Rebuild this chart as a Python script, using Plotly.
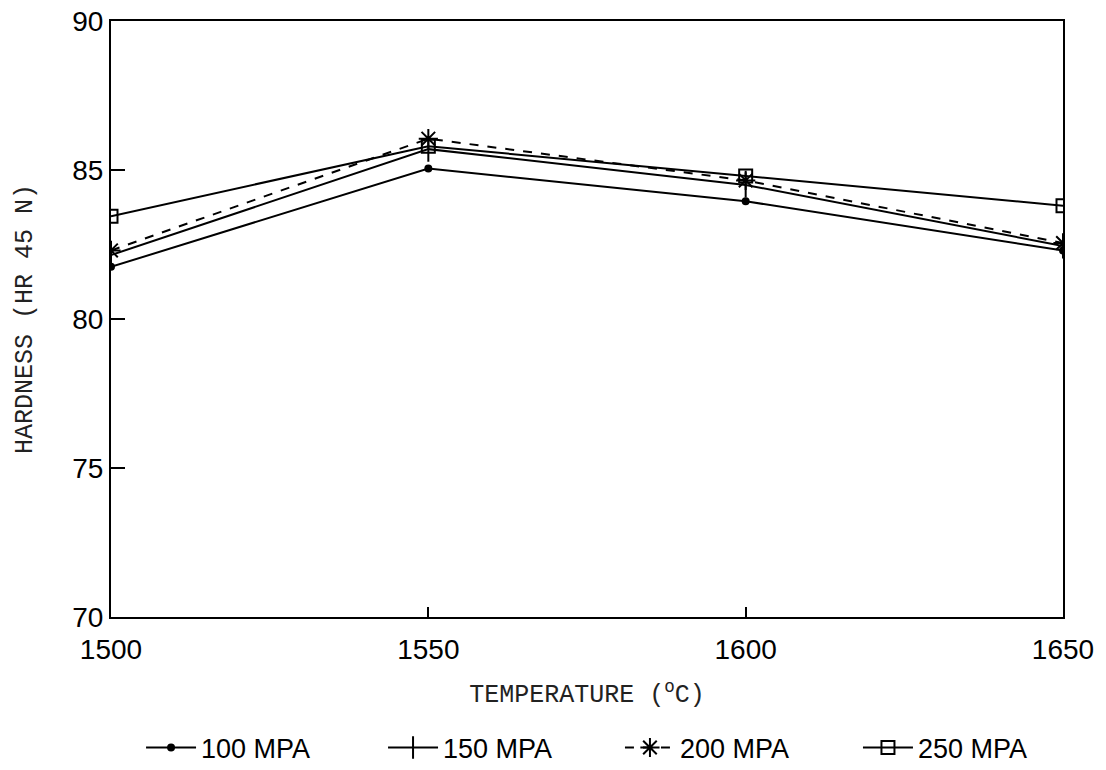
import plotly.graph_objects as go

temperatures = [1500, 1550, 1600, 1650]
hardness_100 = [81.75, 85.05, 83.95, 82.3]
hardness_150 = [82.15, 85.7, 84.5, 82.45]
hardness_200 = [82.3, 86.05, 84.65, 82.55]
hardness_250 = [83.45, 85.8, 84.8, 83.8]
series_names = ["100 MPA", "150 MPA", "200 MPA", "250 MPA"]
x_ticks = [1500, 1550, 1600, 1650]
y_ticks = [70, 75, 80, 85, 90]

series = [hardness_100, hardness_150, hardness_200, hardness_250]
symbols = ["circle", "line-ns", "asterisk-open", "square-open"]
sizes = [6, 18, 16, 13]
dashes = ["solid", "solid", "dash", "solid"]
legend_ids = ["legend", "legend2", "legend3", "legend4"]
legend_x = [0.1203, 0.3391, 0.5533, 0.7685]

fig = go.Figure()
for name, ys, sym, sz, dash, lid in zip(series_names, series, symbols, sizes, dashes, legend_ids):
    fig.add_trace(go.Scatter(
        x=temperatures, y=ys, name=name, mode="lines+markers", legend=lid,
        line=dict(color="black", width=2, dash=dash),
        marker=dict(symbol=sym, size=sz, color="black",
                    line=dict(color="black", width=2)),
    ))

tick_font = dict(family="Liberation Sans, Arial", size=28, color="black")
title_font = dict(family="Liberation Mono, Courier New, monospace", size=25, color="#222")
legend_font = dict(family="Liberation Sans, Arial", size=27, color="black")

legend_layout = {}
for lid, lx in zip(legend_ids, legend_x):
    legend_layout[lid] = dict(orientation="h", xref="container", yref="container",
                              x=lx, xanchor="left", y=0.039, yanchor="middle",
                              font=legend_font, itemwidth=50, bgcolor="rgba(0,0,0,0)")

fig.update_layout(
    width=1106, height=770,
    margin=dict(l=103, r=51, t=13, b=161),
    paper_bgcolor="white", plot_bgcolor="white",
    showlegend=True,
    **legend_layout,
    xaxis=dict(range=[1500, 1650], tickvals=x_ticks, ticks="inside", ticklen=10, tickwidth=2,
               tickcolor="black", showgrid=False, automargin=False,
               zeroline=False, showline=True, linecolor="black", linewidth=2, mirror=True,
               tickfont=tick_font, ticklabelstandoff=6, ticklabeloverflow="allow",
               title=dict(text="TEMPERATURE (<sup>o</sup>C)", standoff=21, font=title_font)),
    yaxis=dict(range=[70, 90], tickvals=y_ticks, ticks="inside", ticklen=14, tickwidth=2,
               tickcolor="black", showgrid=False, zeroline=False, automargin=False,
               showline=True, linecolor="black", linewidth=2, mirror=True,
               tickfont=tick_font, ticklabelstandoff=0, ticklabeloverflow="allow",
               title=dict(text="HARDNESS (HR 45 N)", standoff=32, font=title_font)),
)

fig.write_html("out.html")
